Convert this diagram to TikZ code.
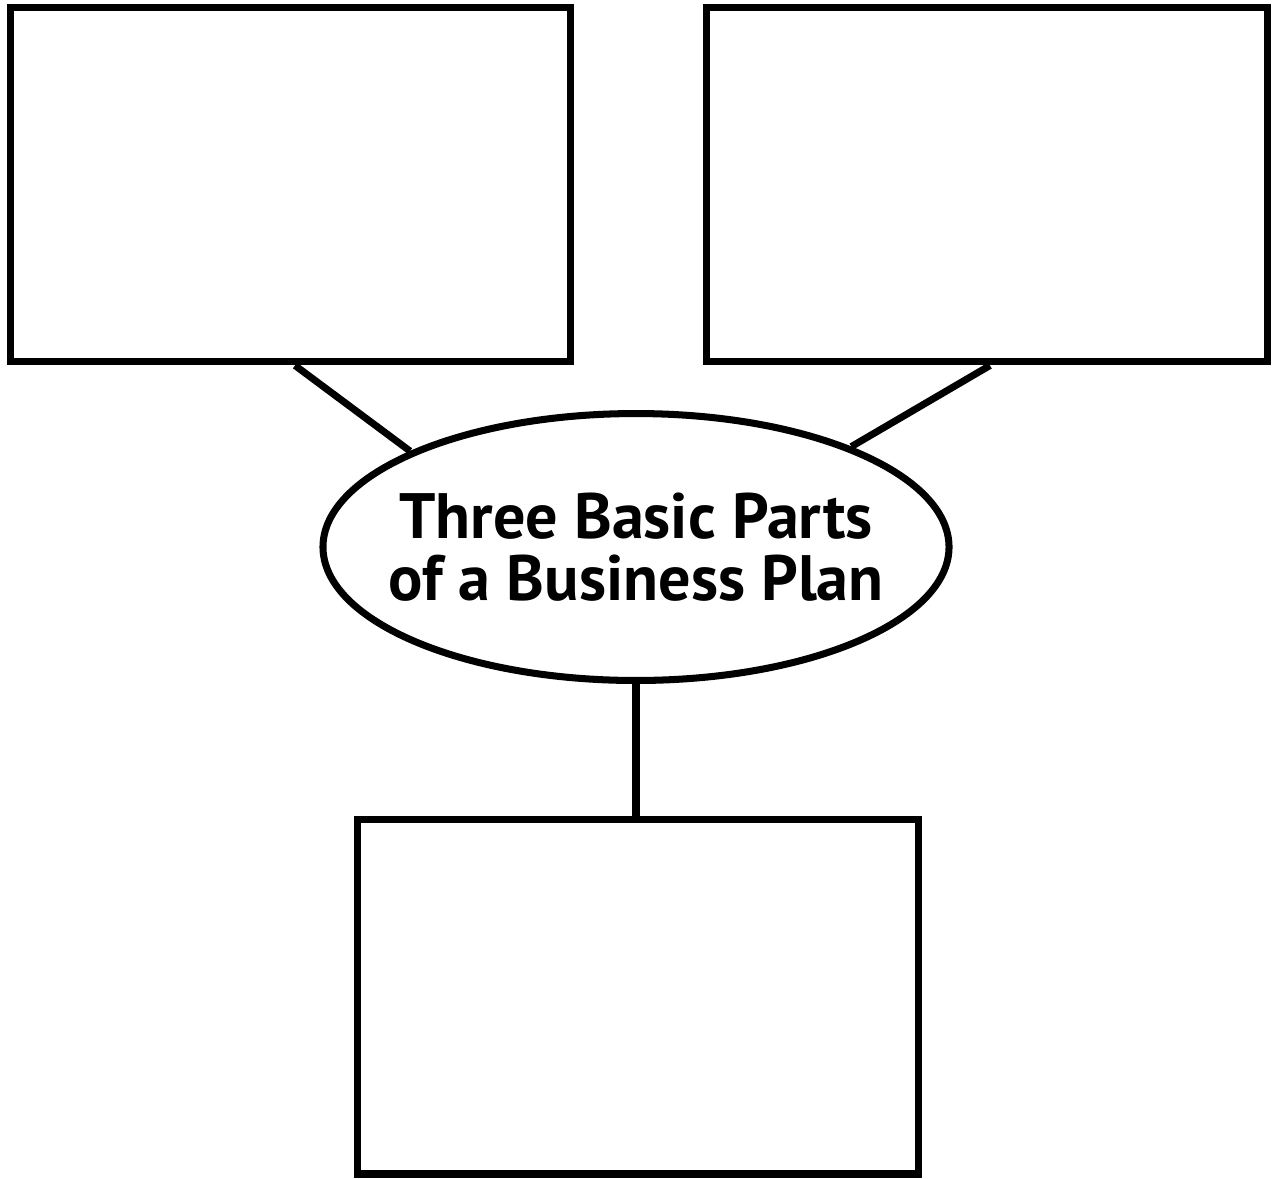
\documentclass[tikz,border=0pt]{standalone}
\usepackage{fontspec}
\newfontfamily\planfont{PT Sans}
\usetikzlibrary{positioning,shapes.geometric}
\tikzset{
  % --- nodes
  part/.style  = {draw=black, line width=4pt, fill=white, inner sep=0pt,
                  minimum width=11.22cm, minimum height=7.1cm},
  topic/.style = {ellipse, draw=black, line width=4pt, fill=white,
                  inner xsep=-15pt, inner ysep=0pt,
                  minimum width=12.44cm, minimum height=5.34cm, align=center,
                  font=\planfont\bfseries\fontsize{36.5}{35.5}\selectfont},
  % --- edges
  link/.style  = {line width=4pt, draw=black},
}
\begin{document}
\begin{tikzpicture}[x=0.02cm, y=-0.02cm]
  \useasboundingbox (0,0) rectangle (1274,1178);
  % three empty parts
  \node[part] (lbox) at (290.5,184.5) {};
  \node[part] (rbox) at (987,184.5) {};
  \node[part] (bbox) at (638,996.5) {};
  % centre topic
  \node[topic] (ell) at (636,547) {Three Basic Parts\\of a Business Plan};
  % connectors
  \draw[link] ([xshift=0.09cm]lbox.south) -- (ell.157);
  \draw[link] ([xshift=0.06cm]rbox.south) -- (ell.25);
  \draw[link] (ell.south) -- (ell.south |- bbox.north);
\end{tikzpicture}
\end{document}
